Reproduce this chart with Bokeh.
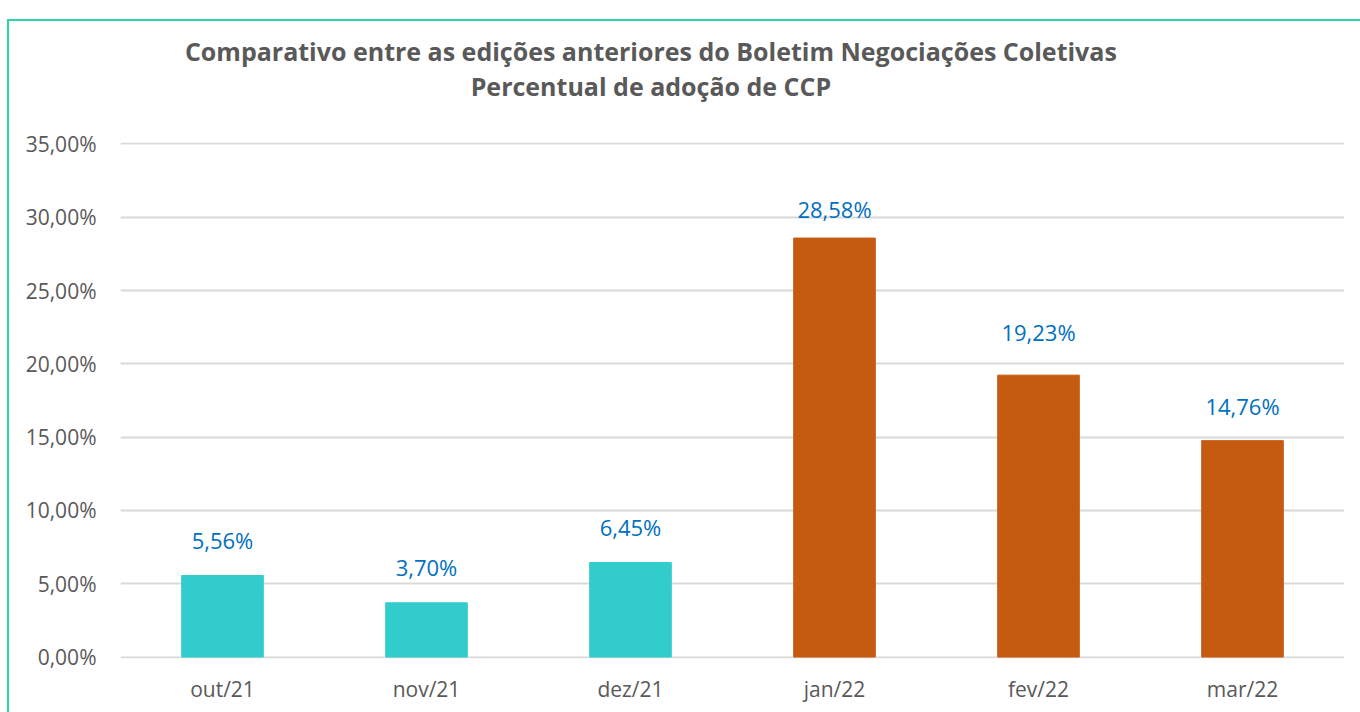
from bokeh.plotting import figure
from bokeh.models import (ColumnDataSource, Range1d, FixedTicker, LabelSet, LinearAxis,
                          CustomJSTickFormatter)
from bokeh.embed import file_html
from bokeh.resources import INLINE
from bokeh.core.properties import value

categories = ["out/21", "nov/21", "dez/21", "jan/22", "fev/22", "mar/22"]
values = [5.56, 3.70, 6.45, 28.58, 19.23, 14.76]
colors = ["#33CCCC", "#33CCCC", "#33CCCC", "#C55A11", "#C55A11", "#C55A11"]
y_ticks = [0, 5, 10, 15, 20, 25, 30, 35]
title_lines = ["Comparativo entre as edições anteriores do Boletim Negociações Coletivas",
               "Percentual de adoção de CCP"]

# pixel gap between each bar top and its value label (style, not data)
label_gaps = [36, 36, 35, 29, 43, 35]

xs = [i + 0.5 for i in range(len(categories))]
labels = [("%.2f" % v).replace(".", ",") + "%" for v in values]
src = ColumnDataSource(dict(x=xs, top=values, color=colors, label=labels, gap=label_gaps))

FONT = "Open Sans"
GRAY = "#595959"
BORDER = "#2CD5A6"
TITLE_X = 2.6  # horizontal centre of the chart title, in x data units

p = figure(width=1360, height=712, output_backend="svg", toolbar_location=None,
           x_range=Range1d(0, 6), y_range=Range1d(-0.1, 35.1),
           min_border_left=120, min_border_right=16, min_border_top=142,
           min_border_bottom=54)
p.outline_line_color = None
p.background_fill_color = "white"
p.border_fill_color = None
p.styles = {
    "background-color": "white",
    "background-image": "linear-gradient(%s,%s), linear-gradient(%s,%s)" % (BORDER, BORDER, BORDER, BORDER),
    "background-size": "2px 100%, 100% 2px",
    "background-position": "7px 19px, 7px 19px",
    "background-repeat": "no-repeat",
}

p.vbar(x="x", top="top", width=0.40, color="color", source=src)

p.add_layout(LabelSet(x="x", y="top", text="label", source=src, y_offset="gap",
                      text_align="center", text_baseline="middle",
                      text_font=value(FONT), text_font_size="22px",
                      text_color="#0070C0"))

# axes
p.xaxis.ticker = FixedTicker(ticks=xs)
p.xaxis.major_label_overrides = {x: c for x, c in zip(xs, categories)}
p.yaxis.ticker = FixedTicker(ticks=y_ticks)
p.yaxis.formatter = CustomJSTickFormatter(code="return tick.toFixed(2).replace('.', ',') + '%';")
for ax in (p.xaxis[0], p.yaxis[0]):
    ax.axis_line_color = None
    ax.major_tick_line_color = None
    ax.minor_tick_line_color = None
    ax.major_label_text_font = FONT
    ax.major_label_text_font_size = "21px"
    ax.major_label_text_color = GRAY
p.yaxis.major_label_standoff = 18
p.xaxis.major_label_standoff = 10
p.xgrid.grid_line_color = None
p.ygrid.grid_line_color = "#D9D9D9"
p.ygrid.grid_line_width = 2
p.ygrid.ticker = FixedTicker(ticks=y_ticks)

# two-line chart title, drawn as tick-free axes above the plot
for txt, standoff in [(title_lines[1], 40), (title_lines[0], -2)]:
    tax = LinearAxis(ticker=FixedTicker(ticks=[TITLE_X]),
                     formatter=CustomJSTickFormatter(code="return %r;" % txt),
                     axis_line_color=None, major_tick_line_color=None,
                     minor_tick_line_color=None, major_tick_out=0, major_tick_in=0,
                     major_label_standoff=standoff,
                     major_label_text_font=FONT, major_label_text_font_size="25px",
                     major_label_text_font_style="bold", major_label_text_color=GRAY)
    p.add_layout(tax, "above")

open("out.html", "w").write(file_html(p, INLINE))
